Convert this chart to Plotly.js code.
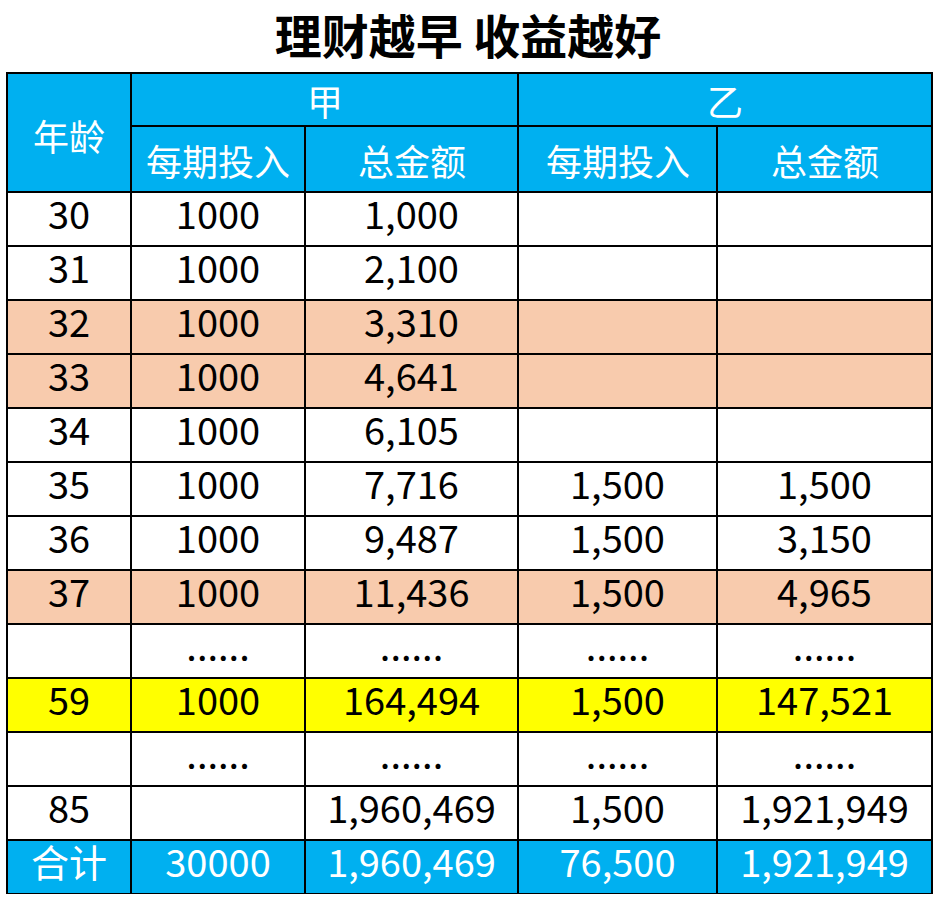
<!DOCTYPE html>
<html><head><meta charset="utf-8">
<script src="https://cdn.plot.ly/plotly-3.0.1.min.js"></script>
<style>html,body{margin:0;padding:0;background:#fff}#chart{width:936px;height:902px}</style>
</head><body><div id="chart"></div>
<script>
// ---- data ----
const titleText = "理财越早 收益越好";
const groupLabels = ["甲", "乙"];
const ageHeader = "年龄";
const subHeaders = ["每期投入", "总金额", "每期投入", "总金额"];
const ages = ["30","31","32","33","34","35","36","37","","59","","85","合计"];
const jiaInvest = ["1000","1000","1000","1000","1000","1000","1000","1000","......","1000","......","","30000"];
const jiaTotal = ["1,000","2,100","3,310","4,641","6,105","7,716","9,487","11,436","......","164,494","......","1,960,469","1,960,469"];
const yiInvest = ["","","","","","1,500","1,500","1,500","......","1,500","......","1,500","76,500"];
const yiTotal = ["","","","","","1,500","3,150","4,965","......","147,521","......","1,921,949","1,921,949"];
const rowKind = ["w","w","p","p","w","w","w","p","w","y","w","w","t"];

// ---- styling ----
const W = 936, H = 902;
const BLUE = "#00B0F0", PEACH = "#F8CBAD", YELLOW = "#FFFF00", WHITE = "#FFFFFF";
const FONT = "Noto Sans CJK SC, Noto Sans, sans-serif";
const kindFill = {w: WHITE, p: PEACH, y: YELLOW, t: BLUE};
const rowFill = rowKind.map(k => kindFill[k]);
const rowFont = rowKind.map(k => k === "t" ? WHITE : "#000000");
const colX = [7, 131, 305, 518, 717, 932];
const yTop = 73, yGroupBottom = 126, ySubBottom = 192, rowH = 54;
const yBottom = ySubBottom + rowH * ages.length;
const fx = p => p / W, fy = p => 1 - p / H;
const line = {color: "#000000", width: 2.5};
const CELL_SIZE = 38, HEAD_SIZE = 36;

const ageTable = {
  type: "table",
  domain: {x: [fx(colX[0]), fx(colX[1])], y: [fy(yBottom), fy(yTop)]},
  header: {values: [""], height: ySubBottom - yTop, fill: {color: BLUE}, line: line},
  cells: {values: [ages], height: rowH, fill: {color: [rowFill]}, line: line, align: "center",
          font: {family: FONT, size: CELL_SIZE, color: [rowFont]}}
};
const groupTable = {
  type: "table",
  domain: {x: [fx(colX[1]), fx(colX[5])], y: [fy(yGroupBottom), fy(yTop)]},
  columnwidth: [colX[3] - colX[1], colX[5] - colX[3]],
  header: {values: groupLabels.map(() => ""), height: yGroupBottom - yTop, fill: {color: BLUE}, line: line},
  cells: {values: []}
};
const mainTable = {
  type: "table",
  domain: {x: [fx(colX[1]), fx(colX[5])], y: [fy(yBottom), fy(yGroupBottom)]},
  columnwidth: [1,2,3,4].map(i => colX[i + 1] - colX[i]),
  header: {values: subHeaders.map(() => ""), height: ySubBottom - yGroupBottom, fill: {color: BLUE}, line: line},
  cells: {values: [jiaInvest, jiaTotal, yiInvest, yiTotal], height: rowH,
          fill: {color: [rowFill, rowFill, rowFill, rowFill]}, line: line, align: "center",
          font: {family: FONT, size: CELL_SIZE, color: [rowFont, rowFont, rowFont, rowFont]}}
};

// header labels, centred in their (merged) header cells
const headFont = {family: FONT, size: HEAD_SIZE, color: WHITE};
const ann = (text, x0, x1, y0, y1, dy) => ({
  text: text, xref: "paper", yref: "paper", x: fx((x0 + x1) / 2), y: fy((y0 + y1) / 2 + (dy || 0)),
  xanchor: "center", yanchor: "middle", showarrow: false, font: headFont
});
const annotations = [
  ann(ageHeader, colX[0], colX[1], yTop, ySubBottom, 2),
  ann(groupLabels[0], colX[1], colX[3], yTop, yGroupBottom, 0),
  ann(groupLabels[1], colX[3], colX[5], yTop, yGroupBottom, 0)
].concat(subHeaders.map((t, i) => ann(t, colX[i + 1], colX[i + 2], yGroupBottom, ySubBottom, 1)));

const layout = {
  width: W, height: H, margin: {l: 0, r: 0, t: 0, b: 0},
  paper_bgcolor: "#FFFFFF",
  title: {text: "<b>" + titleText + "</b>", x: 0.5, xanchor: "center", yref: "container",
          y: 1 - 38 / H, yanchor: "middle", font: {family: FONT, size: 47, color: "#000000"}},
  annotations: annotations,
  showlegend: false
};
Plotly.newPlot("chart", [ageTable, groupTable, mainTable], layout, {staticPlot: true});
</script></body></html>
